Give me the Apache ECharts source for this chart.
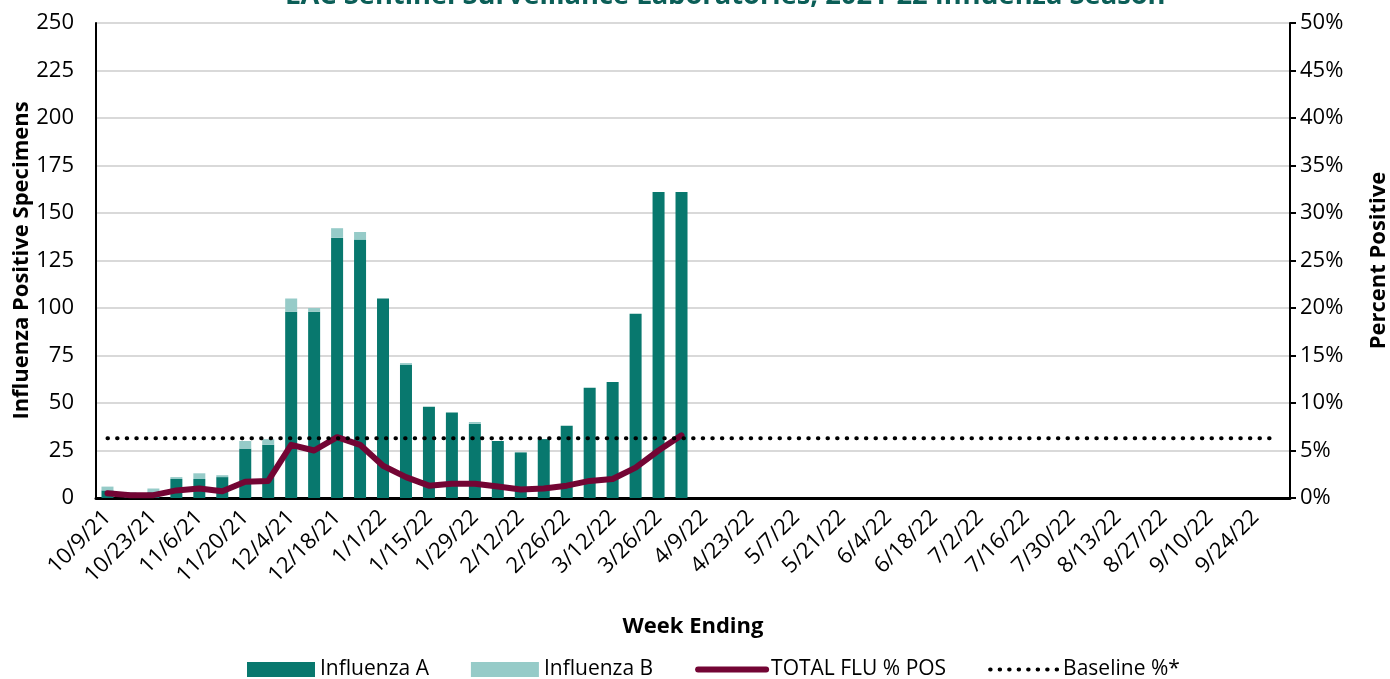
<!DOCTYPE html>
<html>
<head>
<meta charset="utf-8">
<script src="https://cdn.jsdelivr.net/npm/echarts@6/dist/echarts.min.js"></script>
<style>
  html, body { margin: 0; padding: 0; background: #fff; }
  #chart { width: 1390px; height: 679px; }
</style>
</head>
<body>
<div id="chart"></div>
<script>
// week ending dates (every week, labels show every other one)
var weeks = ['10/9/21','10/16/21','10/23/21','10/30/21','11/6/21','11/13/21','11/20/21','11/27/21',
  '12/4/21','12/11/21','12/18/21','12/25/21','1/1/22','1/8/22','1/15/22','1/22/22','1/29/22','2/5/22',
  '2/12/22','2/19/22','2/26/22','3/5/22','3/12/22','3/19/22','3/26/22','4/2/22','4/9/22','4/16/22',
  '4/23/22','4/30/22','5/7/22','5/14/22','5/21/22','5/28/22','6/4/22','6/11/22','6/18/22','6/25/22',
  '7/2/22','7/9/22','7/16/22','7/23/22','7/30/22','8/6/22','8/13/22','8/20/22','8/27/22','9/3/22',
  '9/10/22','9/17/22','9/24/22','10/1/22']

// specimen counts
var fluA = [4, 2, 3, 10, 10, 11, 26, 28, 98, 98, 137, 136, 105, 70, 48, 45, 39, 30, 24, 31, 38, 58, 61, 97, 161, 161]
var fluB = [2, 1, 2, 1, 3, 1, 4, 3, 7, 2, 5, 4, 0, 1, 0, 0, 1, 0, 0, 0, 0, 0, 0, 0, 0, 0]

// percent positive
var totalPct = [0.5, 0.3, 0.3, 0.8, 1.0, 0.7, 1.7, 1.8, 5.6, 5.0, 6.4, 5.6, 3.4, 2.2, 1.3, 1.5, 1.5, 1.2,
  0.9, 1.0, 1.3, 1.8, 2.0, 3.2, 5.0, 6.6]
var baselineValue = 6.3
var baseline = weeks.map(function(){ return baselineValue })

var font = 'Open Sans'
var chart = echarts.init(document.getElementById('chart'))

chart.setOption({
  animation: false,
  textStyle: { fontFamily: font },
  title: {
    text: 'LAC Sentinel Surveillance Laboratories, 2021-22 Influenza Season',
    left: 280,
    top: -22,
    textStyle: { fontFamily: font, fontSize: 27.3, fontWeight: 'bold', color: '#0b5e57' }
  },
  grid: { left: 96, right: 100, top: 23, bottom: 181, outerBoundsMode: 'none', containLabel: false },
  legend: {
    bottom: -6,
    left: 242,
    itemWidth: 68,
    itemHeight: 15,
    itemGap: 42,
    textStyle: { fontSize: 21, color: '#000', fontFamily: font },
    data: [
      { name: 'Influenza A', icon: 'rect' },
      { name: 'Influenza B', icon: 'rect' },
      { name: 'TOTAL FLU % POS', itemStyle: { opacity: 0 }, lineStyle: { width: 6, cap: 'round' } },
      { name: 'Baseline %*', itemStyle: { opacity: 0 },
        lineStyle: { width: 4, type: [0.5, 9], cap: 'round' } }
    ]
  },
  xAxis: {
    type: 'category',
    data: weeks,
    name: 'Week Ending',
    nameLocation: 'middle',
    nameGap: 118,
    nameMoveOverlap: false,
    nameTextStyle: { fontSize: 22, fontWeight: 'bold', color: '#000' },
    axisLine: { lineStyle: { color: '#000', width: 3 } },
    axisTick: { show: false },
    axisLabel: { interval: 1, rotate: 45, fontSize: 22, color: '#000', margin: 16 }
  },
  yAxis: [
    {
      type: 'value', min: 0, max: 250, interval: 25,
      name: 'Influenza Positive Specimens',
      nameLocation: 'middle',
      nameGap: 63,
      nameMoveOverlap: false,
      nameTextStyle: { fontSize: 22, fontWeight: 'bold', color: '#000' },
      axisLine: { show: true, lineStyle: { color: '#000', width: 2 } },
      axisTick: { show: false },
      axisLabel: { fontSize: 22, color: '#000', margin: 22 },
      splitLine: { lineStyle: { color: '#d9d9d9', width: 2 } }
    },
    {
      type: 'value', min: 0, max: 50, interval: 5,
      name: 'Percent Positive',
      nameLocation: 'middle',
      nameGap: 78,
      nameRotate: 90,
      nameMoveOverlap: false,
      nameTextStyle: { fontSize: 22, fontWeight: 'bold', color: '#000' },
      axisLine: { show: true, lineStyle: { color: '#000', width: 2 } },
      axisTick: { show: true, length: 6, lineStyle: { color: '#000', width: 2 } },
      axisLabel: { fontSize: 22, color: '#000', formatter: '{value}%', margin: 10 },
      splitLine: { show: false }
    }
  ],
  series: [
    {
      name: 'Influenza A', type: 'bar', stack: 'flu', data: fluA, barWidth: 12,
      itemStyle: { color: '#08786e' }
    },
    {
      name: 'Influenza B', type: 'bar', stack: 'flu', data: fluB, barWidth: 12,
      itemStyle: { color: '#96cbc8' }
    },
    {
      name: 'TOTAL FLU % POS', type: 'line', yAxisIndex: 1, data: totalPct,
      symbol: 'none', smooth: false,
      lineStyle: { color: '#730534', width: 6, cap: 'round', join: 'round' },
      itemStyle: { color: '#730534' }
    },
    {
      name: 'Baseline %*', type: 'line', yAxisIndex: 1, data: baseline,
      symbol: 'none',
      lineStyle: { color: '#000', width: 4, type: [0.5, 9.1], cap: 'round' },
      itemStyle: { color: '#000' }
    }
  ]
})
</script>
</body>
</html>
